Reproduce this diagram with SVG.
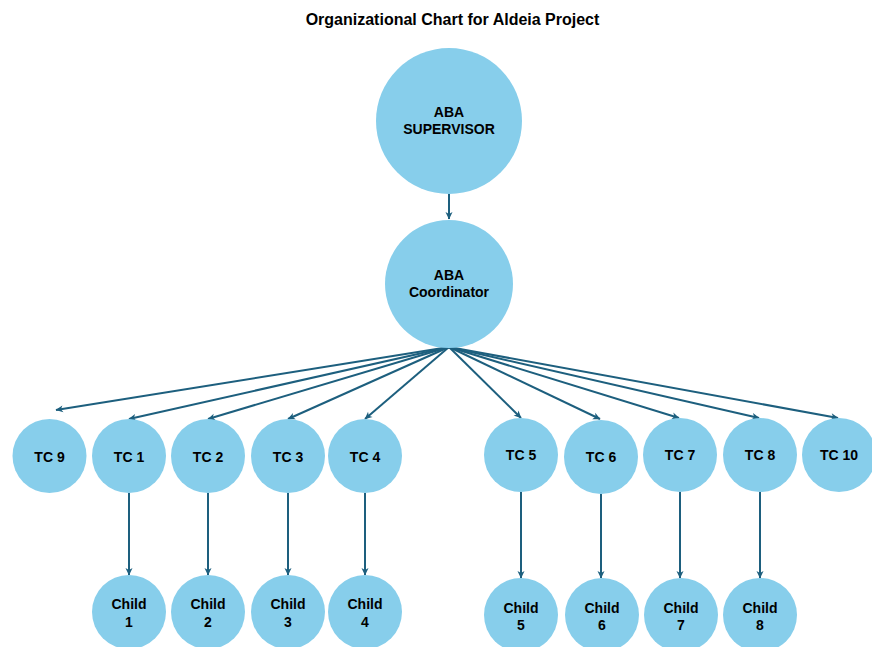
<svg xmlns="http://www.w3.org/2000/svg" width="872" height="647" viewBox="0 0 872 647">
<style>
.n{fill:#87ceeb}
.t{font-family:"Liberation Sans",Arial,sans-serif;font-weight:bold;font-size:14px;fill:#000;text-anchor:middle}
.c{stroke:#1d5f7e;stroke-width:2;fill:none;marker-end:url(#ah)}
</style>
<defs>
<marker id="ah" markerWidth="10" markerHeight="10" refX="8" refY="5" orient="auto" markerUnits="userSpaceOnUse">
<path d="M1,1.5 L8.5,5 L1,8.5 L3,5 Z" fill="#1d5f7e"/>
</marker>
</defs>
<rect width="872" height="647" fill="#fff"/>
<text class="t" x="452.5" y="25" style="font-size:16px">Organizational Chart for Aldeia Project</text>
<g id="connectors">
<line class="c" x1="449" y1="194" x2="449" y2="219"/>
<line class="c" x1="449" y1="347" x2="56" y2="410"/>
<line class="c" x1="449" y1="347" x2="129" y2="419"/>
<line class="c" x1="449" y1="347" x2="208" y2="419"/>
<line class="c" x1="449" y1="347" x2="288" y2="419"/>
<line class="c" x1="449" y1="347" x2="365" y2="419"/>
<line class="c" x1="449" y1="347" x2="521" y2="418"/>
<line class="c" x1="449" y1="347" x2="600" y2="419"/>
<line class="c" x1="449" y1="347" x2="679" y2="418"/>
<line class="c" x1="449" y1="347" x2="759" y2="418"/>
<line class="c" x1="449" y1="347" x2="838" y2="418"/>
<line class="c" x1="129" y1="493" x2="129" y2="575"/>
<line class="c" x1="208" y1="493" x2="208" y2="575"/>
<line class="c" x1="288" y1="493" x2="288" y2="575"/>
<line class="c" x1="365" y1="493" x2="365" y2="575"/>
<line class="c" x1="521" y1="492" x2="521" y2="578"/>
<line class="c" x1="601" y1="494" x2="601" y2="578"/>
<line class="c" x1="680" y1="492" x2="680" y2="578"/>
<line class="c" x1="760" y1="492" x2="760" y2="578"/>
</g>
<g id="supervisor"><circle class="n" cx="449" cy="121" r="73"/><text class="t" x="449" y="117">ABA</text><text class="t" x="449" y="134">SUPERVISOR</text></g>
<g id="coordinator"><circle class="n" cx="449" cy="284" r="64"/><text class="t" x="449" y="280">ABA</text><text class="t" x="449" y="297">Coordinator</text></g>
<g id="tc9"><circle class="n" cx="49.5" cy="456" r="37"/><text class="t" x="49.5" y="462">TC 9</text></g>
<g id="tc1"><circle class="n" cx="129" cy="456" r="37"/><text class="t" x="129" y="462">TC 1</text></g>
<g id="tc2"><circle class="n" cx="208" cy="456" r="37"/><text class="t" x="208" y="462">TC 2</text></g>
<g id="tc3"><circle class="n" cx="288" cy="456" r="37"/><text class="t" x="288" y="462">TC 3</text></g>
<g id="tc4"><circle class="n" cx="365" cy="456" r="37"/><text class="t" x="365" y="462">TC 4</text></g>
<g id="tc5"><circle class="n" cx="521" cy="455" r="37"/><text class="t" x="521" y="460">TC 5</text></g>
<g id="tc6"><circle class="n" cx="601" cy="457" r="37"/><text class="t" x="601" y="462">TC 6</text></g>
<g id="tc7"><circle class="n" cx="680" cy="455" r="37"/><text class="t" x="680" y="460">TC 7</text></g>
<g id="tc8"><circle class="n" cx="760" cy="455" r="37"/><text class="t" x="760" y="460">TC 8</text></g>
<g id="tc10"><circle class="n" cx="839" cy="455" r="37"/><text class="t" x="839" y="460">TC 10</text></g>
<g id="child1"><circle class="n" cx="129" cy="612" r="37"/><text class="t" x="129" y="609">Child</text><text class="t" x="129" y="627">1</text></g>
<g id="child2"><circle class="n" cx="208" cy="612" r="37"/><text class="t" x="208" y="609">Child</text><text class="t" x="208" y="627">2</text></g>
<g id="child3"><circle class="n" cx="288" cy="612" r="37"/><text class="t" x="288" y="609">Child</text><text class="t" x="288" y="627">3</text></g>
<g id="child4"><circle class="n" cx="365" cy="612" r="37"/><text class="t" x="365" y="609">Child</text><text class="t" x="365" y="627">4</text></g>
<g id="child5"><circle class="n" cx="521" cy="615" r="37"/><text class="t" x="521" y="613">Child</text><text class="t" x="521" y="630">5</text></g>
<g id="child6"><circle class="n" cx="602" cy="615" r="37"/><text class="t" x="602" y="613">Child</text><text class="t" x="602" y="630">6</text></g>
<g id="child7"><circle class="n" cx="681" cy="615" r="37"/><text class="t" x="681" y="613">Child</text><text class="t" x="681" y="630">7</text></g>
<g id="child8"><circle class="n" cx="760" cy="615" r="37"/><text class="t" x="760" y="613">Child</text><text class="t" x="760" y="630">8</text></g>
</svg>
